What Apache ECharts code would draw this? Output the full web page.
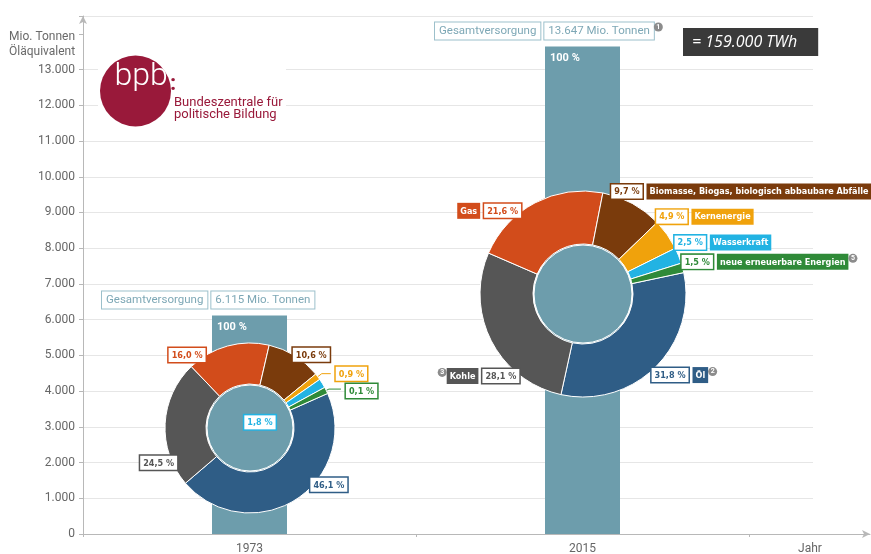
<!DOCTYPE html>
<html>
<head>
<meta charset="utf-8">
<script src="https://cdn.jsdelivr.net/npm/echarts@6/dist/echarts.min.js"></script>
<style>
html,body{margin:0;padding:0;background:#fff}
#chart{width:871px;height:554px}
</style>
</head>
<body>
<div id="chart"></div>
<script>
var years = ['1973', '2015'];
var totals = [6115, 13647];
var sources = ['Öl', 'Kohle', 'Gas', 'Biomasse, Biogas, biologisch abbaubare Abfälle', 'Kernenergie', 'Wasserkraft', 'neue erneuerbare Energien'];
var shares1973 = [46.1, 24.5, 16.0, 10.6, 0.9, 1.8, 0.1];
var shares2015 = [31.8, 28.1, 21.6, 9.7, 4.9, 2.5, 1.5];
var notes2015 = {0: '2', 1: '3', 6: '5'};
var yTop = 13000;

var colors = ['#2f5d86', '#565656', '#d24c1b', '#7a3b0c', '#f0a20c', '#22b3e3', '#2f8a38'];
var barColor = '#6d9dac';
var NARROW = '"Liberation Sans Narrow", "DejaVu Sans Condensed", Roboto, sans-serif';

// label nudges (px) from the default outside position
var shift1973 = [[10, -15], [17, 39], [-17, 9], [-7, -1], [0, 0], [-83, 39], [0, 2]];
var shift2015 = [[-9, 8], [33, 35], [-9, 8], [-26, -12], [-16, -18], [-9, -13], [-6, -6]];
// leader lines [length, length2] for the thin 1973 slices
var guides1973 = {4: [5, 9], 6: [3, 12]};
var nameFirst2015 = [1, 2];

function pct(v) { return v.toFixed(1).replace('.', ',') + ' %'; }
function num(v) { return String(v).replace(/\B(?=(\d{3})+(?!\d))/g, '.'); }

var badge = {width: 9, height: 9, lineHeight: 9, borderRadius: 5, backgroundColor: '#8c8c8c',
	color: '#fff', fontSize: 7, fontWeight: 'bold', align: 'center', verticalAlign: 'top', fontFamily: 'Roboto'};

function richFor(c) {
	return {
		p: {color: c, backgroundColor: '#fff', borderColor: c, borderWidth: 1.5, padding: [3, 3, 2, 3],
			fontWeight: 'bold', fontSize: 9, fontFamily: NARROW},
		n: {color: '#fff', backgroundColor: c, padding: [4, 3, 3, 3], fontWeight: 'bold', fontSize: 9, fontFamily: NARROW},
		s: {width: 4},
		m: badge
	};
}

function pieData(shares, year, guides) {
	return shares.map(function (v, i) {
		var txt;
		if (year == '1973') {
			txt = '{p|' + pct(v) + '}';
		} else if (nameFirst2015.indexOf(i) >= 0) {
			txt = (notes2015[i] ? '{m|' + notes2015[i] + '}' : '') + '{n|' + sources[i] + '}{s| }{p|' + pct(v) + '}';
		} else {
			txt = '{p|' + pct(v) + '}{s| }{n|' + sources[i] + '}' + (notes2015[i] ? '{m|' + notes2015[i] + '}' : '');
		}
		var g = guides[i];
		return {
			value: v,
			name: sources[i],
			itemStyle: {color: colors[i]},
			label: {formatter: txt, rich: richFor(colors[i])},
			labelLine: g ? {show: true, length: g[0], length2: g[1], lineStyle: {color: colors[i], width: 1}} : {show: false}
		};
	});
}

function ring(year, center, radius, startAngle, minAngle, shifts, guides) {
	return {
		type: 'pie',
		center: center,
		radius: radius,
		startAngle: startAngle,
		minAngle: minAngle,
		avoidLabelOverlap: false,
		itemStyle: {borderColor: '#fff', borderWidth: 1},
		label: {show: true, position: 'outside', alignTo: 'none', distanceToLabelLine: 5},
		labelLine: {show: true, length: 0, length2: 0, smooth: false},
		labelLayout: function (p) {
			var s = shifts[p.dataIndex];
			return {dx: s[0], dy: s[1]};
		},
		emphasis: {disabled: true},
		data: pieData(year == '1973' ? shares1973 : shares2015, year, guides),
		z: 4
	};
}

function disk(center, r) {
	return {
		type: 'pie',
		center: center,
		radius: [0, r],
		silent: true,
		label: {show: false},
		itemStyle: {color: barColor, borderColor: '#fff', borderWidth: 1},
		data: [{value: 1}],
		z: 3
	};
}

var splitColors = [];
for (var t = 0; t <= 14; t++) splitColors.push(t * 1000 > yTop ? 'rgba(0,0,0,0)' : '#e6e6e6');

var axisGrey = '#b8b8b8';

var option = {
	animation: false,
	textStyle: {fontFamily: 'Roboto'},
	title: [
		{text: 'Mio. Tonnen\nÖläquivalent', left: 9, top: 29, padding: 0,
			textStyle: {fontSize: 12, fontWeight: 'normal', color: '#6a6a6a', lineHeight: 15, fontFamily: 'Roboto'}},
		{text: '= 159.000 TWh', left: 683, top: 28, padding: [6, 21, 6, 9], backgroundColor: '#3a3a3a',
			textStyle: {fontSize: 16, fontWeight: 'normal', fontStyle: 'italic', color: '#fff', fontFamily: '"Open Sans", Lato, sans-serif'}}
	],
	grid: [
		{left: 83, right: 1, top: 16, bottom: 20, outerBoundsMode: 'none'},
		{left: 83, right: 58, top: 16, bottom: 20, outerBoundsMode: 'none'},
		{left: 83, right: 122, top: 16, bottom: 20, outerBoundsMode: 'none'}
	],
	xAxis: [
		{gridIndex: 0, type: 'value', min: 0, max: 1,
			axisLine: {show: true, lineStyle: {color: axisGrey}, symbol: ['none', 'arrow'], symbolSize: [6, 8]},
			axisTick: {show: false}, axisLabel: {show: false}, splitLine: {show: false},
			name: 'Jahr', nameLocation: 'end', nameGap: -60,
			nameTextStyle: {color: '#666', fontSize: 12, align: 'center', verticalAlign: 'top', padding: [9, 0, 0, 0]}},
		{gridIndex: 1, type: 'value', show: false, min: 0, max: 1},
		{gridIndex: 2, type: 'category', data: years,
			axisLine: {show: true, lineStyle: {color: axisGrey}},
			axisTick: {show: true, length: 3, lineStyle: {color: axisGrey}},
			axisLabel: {color: '#666', fontSize: 12, margin: 9}}
	],
	yAxis: [
		{gridIndex: 0, type: 'value', show: false, min: 0, max: 1},
		{gridIndex: 1, type: 'value', min: 0, max: 14500, interval: 1000,
			axisLine: {show: true, lineStyle: {color: axisGrey}, symbol: ['none', 'arrow'], symbolSize: [6, 8]},
			axisTick: {show: true, length: 4, lineStyle: {color: axisGrey}},
			axisLabel: {color: '#666', fontSize: 12, margin: 8, formatter: function (v) { return v > yTop ? '' : num(v); }},
			splitLine: {show: true, lineStyle: {color: splitColors, width: 1}}},
		{gridIndex: 2, type: 'value', show: false, min: 0, max: 14500}
	],
	graphic: [
		{type: 'rect', shape: {x: 98, y: 50, width: 188, height: 80}, style: {fill: '#fff'}, z: 10},
		{type: 'circle', shape: {cx: 135.5, cy: 91, r: 35.5}, style: {fill: '#99193a'}, z: 11},
		{type: 'text', x: 141, y: 93, z: 12,
			style: {text: 'bpb', fill: '#fff', font: '300 32px Roboto', align: 'center', verticalAlign: 'bottom'}},
		{type: 'text', x: 170, y: 95, z: 12,
			style: {text: ':', fill: '#99193a', font: 'bold 22px Roboto', verticalAlign: 'bottom'}},
		{type: 'text', x: 174, y: 97, z: 12,
			style: {text: 'Bundeszentrale für\npolitische Bildung', fill: '#99193a', font: '13px Roboto', lineHeight: 12}}
	],
	series: [
		{
			type: 'bar', xAxisIndex: 2, yAxisIndex: 2,
			barWidth: 75,
			itemStyle: {color: barColor},
			label: {show: true, position: [5, 6], formatter: '100 %', color: '#fff', fontWeight: 'bold',
				fontSize: 11, fontFamily: 'Roboto', align: 'left', verticalAlign: 'top'},
			data: totals,
			z: 2
		},
		{
			type: 'bar', xAxisIndex: 2, yAxisIndex: 2,
			barWidth: 75, barGap: '-100%',
			itemStyle: {color: 'rgba(0,0,0,0)'},
			silent: true,
			label: {
				show: true, position: [-110, -24], align: 'left', verticalAlign: 'top',
				formatter: function (p) {
					return '{g|Gesamtversorgung}{s| }{g|' + num(p.value) + ' Mio. Tonnen}' + (p.dataIndex == 1 ? '{m|1}' : '');
				},
				rich: {
					g: {color: '#7ea8b6', borderColor: '#9cc0cb', borderWidth: 1, padding: [3, 4, 2, 4],
						fontSize: 11.5, fontFamily: 'Roboto', backgroundColor: '#fff'},
					s: {width: 4},
					m: badge
				}
			},
			data: totals,
			z: 2
		},
		disk([250, 428], 43),
		ring('1973', [250, 428], [44, 85], 24, 4.5, shift1973, guides1973),
		disk([583, 294], 49),
		ring('2015', [583, 294], [50, 103], 12, 0, shift2015, {})
	]
};

var myChart = echarts.init(document.getElementById('chart'));
myChart.setOption(option);
</script>
</body>
</html>
